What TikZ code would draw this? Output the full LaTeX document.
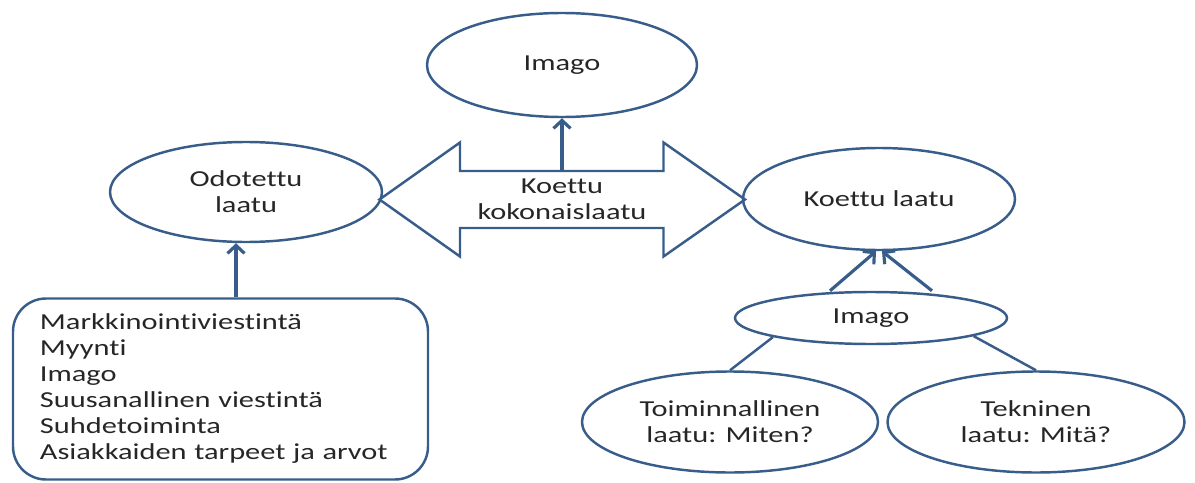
\documentclass[tikz,border=0pt]{standalone}
\usepackage{fontspec}
\setmainfont{Carlito}[FakeStretch=1.33, Ligatures={NoCommon}]
\usetikzlibrary{positioning}
\usetikzlibrary{arrows.meta, shapes.geometric}
\definecolor{linjasin}{RGB}{56,93,138}
\definecolor{teksti}{RGB}{38,38,38}
\tikzset{
 oval/.style={ellipse, draw=linjasin, line width=1.4pt, inner sep=0pt,
  align=center, text=teksti, font=\fontsize{13}{14.8}\selectfont},
 listbox/.style={rectangle, draw=linjasin, line width=1.4pt, rounded corners=0.66cm,
  inner xsep=0.54cm, align=left, text=teksti, font=\fontsize{13}{14.8}\selectfont},
 nuoli/.style={draw=linjasin, line width=1.8pt, -{Straight Barb[length=1.6mm,width=3.4mm]}}
}
\begin{document}
\begin{tikzpicture}
 \useasboundingbox (0,0) rectangle (23.9,-9.64);

 \node[oval, minimum width=5.4cm, minimum height=2.08cm] (imagoT) at (11.24,-1.30) {Imago};
 \node[oval, minimum width=5.44cm, minimum height=2.0cm] (odotettu) at (4.92,-3.84) {Odotettu\\laatu};
 \node[oval, minimum width=5.44cm, minimum height=2.04cm] (koettu) at (17.58,-3.98) {Koettu laatu};
 \node[oval, minimum width=5.44cm, minimum height=1.04cm] (imagoB) at (17.42,-6.36) {Imago};
 \node[oval, minimum width=5.92cm, minimum height=2.02cm] (toim) at (14.60,-8.44) {Toiminnallinen\\laatu: Miten?};
 \node[oval, minimum width=5.94cm, minimum height=2.02cm] (tekn) at (20.72,-8.44) {Tekninen\\laatu: Mitä?};

 \node[listbox, text width=7.22cm, minimum height=3.62cm] (lista) at (4.41,-7.78)
  {Markkinointiviestintä\\Myynti\\Imago\\Suusanallinen viestintä\\Suhdetoiminta\\Asiakkaiden tarpeet ja arvot};

 % double arrow
 \node[text=teksti, align=center, inner sep=0pt, font=\fontsize{13}{14.8}\selectfont] (kokonais) at (11.24,-3.99) {Koettu\\kokonaislaatu};
 \draw[draw=linjasin, line width=1.4pt, line join=miter]
  (7.59,-3.99) -- (9.20,-2.85) -- (9.20,-3.42) -- (13.27,-3.42) -- (13.27,-2.85)
  -- (14.90,-3.99) -- (13.27,-5.13) -- (13.27,-4.56) -- (9.20,-4.56) -- (9.20,-5.13) -- cycle;
 \coordinate (shafttop) at (11.24,-3.42);

 \draw[nuoli] (shafttop) -- (imagoT.south);
 \draw[nuoli] ([xshift=0.31cm]lista.north) -- ([xshift=0.31cm]lista.north |- odotettu.south);
 \draw[nuoli] ([xshift=-0.82cm]imagoB.north) -- ([xshift=-0.06cm]koettu.south);
 \draw[nuoli] ([xshift=1.22cm]imagoB.north) -- ([xshift=0.06cm]koettu.south);
 \draw[draw=linjasin, line width=1.4pt] (imagoB.191) -- (toim.north);
 \draw[draw=linjasin, line width=1.4pt] (imagoB.350) -- (tekn.north);
\end{tikzpicture}
\end{document}
